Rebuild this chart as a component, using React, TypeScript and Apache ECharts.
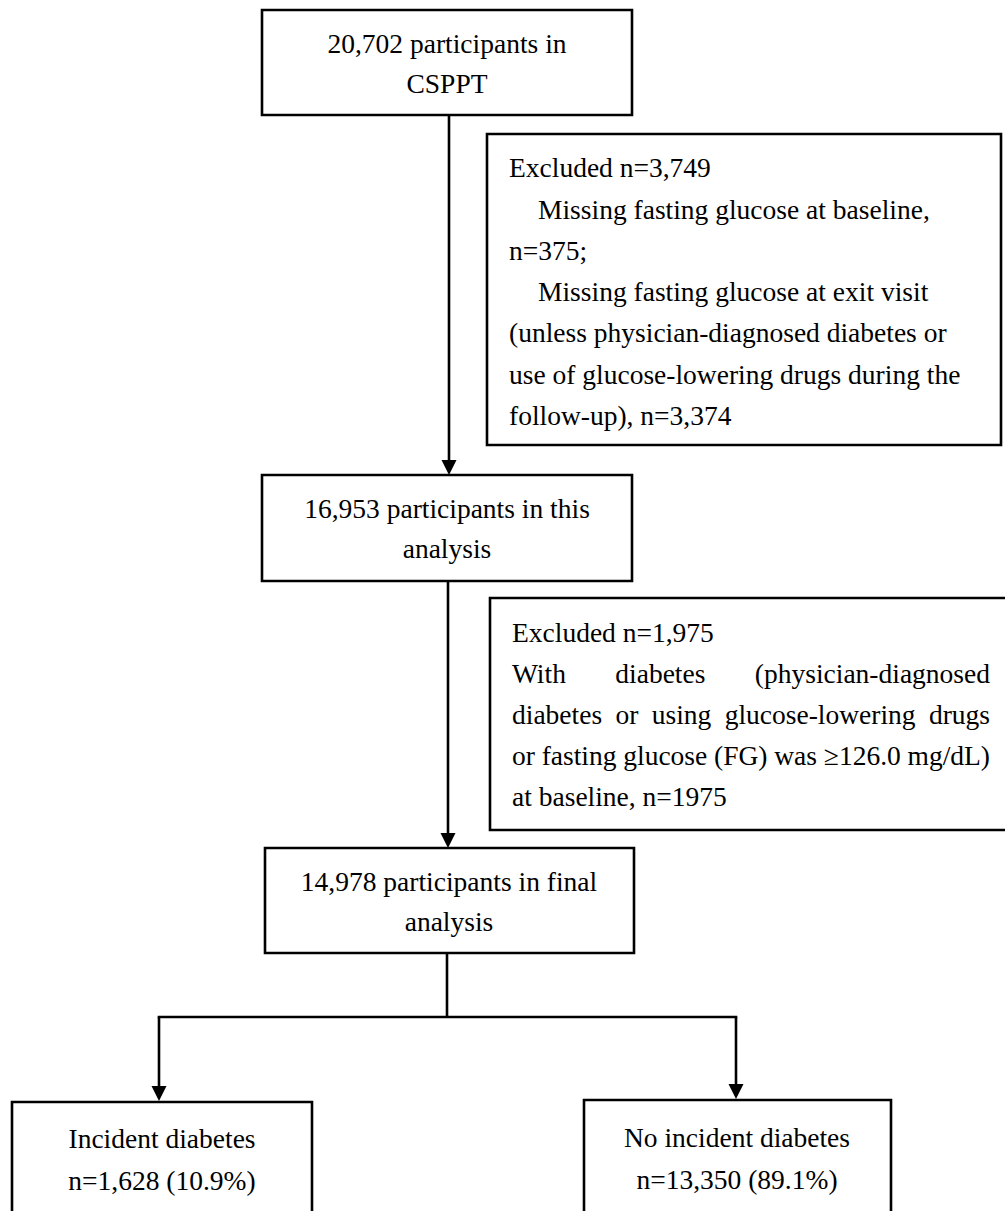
import React, { useEffect, useRef } from "react";
import * as echarts from "echarts";

const box1Lines = ["20,702 participants in", "CSPPT"];
const box2Lines = ["16,953 participants in this", "analysis"];
const box3Lines = ["14,978 participants in final", "analysis"];
const excl1Lines = [
  "Excluded n=3,749",
  "Missing fasting glucose at baseline,",
  "n=375;",
  "Missing fasting glucose at exit visit",
  "(unless physician-diagnosed diabetes or",
  "use of glucose-lowering drugs during the",
  "follow-up), n=3,374",
];
const excl1Indent = [false, true, false, true, false, false, false];
const excl2Lines = [
  "Excluded n=1,975",
  "With diabetes (physician-diagnosed",
  "diabetes or using glucose-lowering drugs",
  "or fasting glucose (FG) was ≥126.0 mg/dL)",
  "at baseline, n=1975",
];
const excl2Justify = [false, true, true, true, false];
const leftLines = ["Incident diabetes", "n=1,628 (10.9%)"];
const rightLines = ["No incident diabetes", "n=13,350 (89.1%)"];

const FONT = '"Liberation Serif", "Times New Roman", serif';
const FS = 27.5;
const LW = 2.6;
const MID = 9.3; // baseline -> middle offset

function txt(text: string, x: number, baseline: number, align: string = "left") {
  return {
    type: "text",
    x,
    y: baseline - MID,
    silent: true,
    style: {
      text,
      fontSize: FS,
      fontFamily: FONT,
      fill: "#000",
      align,
      verticalAlign: "middle",
    },
  };
}

function rect(x: number, y: number, w: number, h: number) {
  return {
    type: "rect",
    shape: { x, y, width: w, height: h },
    style: { fill: "#fff", stroke: "#000", lineWidth: LW },
  };
}

function line(x1: number, y1: number, x2: number, y2: number) {
  return {
    type: "line",
    shape: { x1, y1, x2, y2 },
    style: { stroke: "#000", lineWidth: LW },
  };
}

function arrow(x: number, y1: number, tip: number) {
  return [
    line(x, y1, x, tip - 12),
    {
      type: "polygon",
      shape: { points: [[x - 7.5, tip - 15], [x + 7.5, tip - 15], [x, tip]] },
      style: { fill: "#000" },
    },
  ];
}

export default function App() {
  const ref = useRef<HTMLDivElement>(null);
  useEffect(() => {
    if (!ref.current) return;
    const chart = echarts.init(ref.current, undefined, { renderer: "svg" });
    const canvas = document.createElement("canvas");
    const ctx = canvas.getContext("2d")!;
    ctx.font = `${FS}px ${FONT}`;
    const measure = (s: string) => ctx.measureText(s).width;

    const els: any[] = [];
    // boxes
    els.push(rect(262, 10, 370, 105));
    els.push(rect(262, 475, 370, 106));
    els.push(rect(265, 848, 369, 105));
    els.push(rect(487, 134, 514, 311));
    els.push(rect(490, 598, 530, 232));
    els.push(rect(12, 1102, 300, 200));
    els.push(rect(584, 1100, 307, 200));

    // connectors
    els.push(...arrow(449, 115, 475));
    els.push(...arrow(448, 581, 848));
    els.push(line(447, 953, 447, 1017));
    els.push(line(159 - LW / 2, 1017, 736 + LW / 2, 1017));
    els.push(...arrow(159, 1017, 1101));
    els.push(...arrow(736, 1017, 1099));

    // centered box texts
    box1Lines.forEach((t, i) => els.push(txt(t, 447, 53 + i * 40, "center")));
    box2Lines.forEach((t, i) => els.push(txt(t, 447, 518 + i * 39.5, "center")));
    box3Lines.forEach((t, i) => els.push(txt(t, 449, 891 + i * 39.5, "center")));
    leftLines.forEach((t, i) => els.push(txt(t, 162, 1148 + i * 42, "center")));
    rightLines.forEach((t, i) => els.push(txt(t, 737, 1147 + i * 42, "center")));

    // excluded box 1
    excl1Lines.forEach((t, i) =>
      els.push(txt(t, excl1Indent[i] ? 538 : 509, 177 + i * 41.3, "left"))
    );

    // excluded box 2 (justified)
    const L2 = 512;
    const R2 = 990;
    excl2Lines.forEach((t, i) => {
      const base = 642 + i * 41;
      if (!excl2Justify[i]) {
        els.push(txt(t, L2, base, "left"));
        return;
      }
      const words = t.split(" ");
      const widths = words.map(measure);
      const total = widths.reduce((a, b) => a + b, 0);
      const gap = Math.max((R2 - L2 - total) / (words.length - 1), measure(" ") * 0.6);
      let x = L2;
      words.forEach((w, k) => {
        els.push(txt(w, x, base, "left"));
        x += widths[k] + gap;
      });
    });

    chart.setOption({
      animation: false,
      backgroundColor: "#fff",
      graphic: { elements: els },
    });
    return () => chart.dispose();
  }, []);
  return (
    <div
      ref={ref}
      style={{ position: "fixed", left: 0, top: 0, width: 1005, height: 1211, background: "#fff" }}
    />
  );
}
